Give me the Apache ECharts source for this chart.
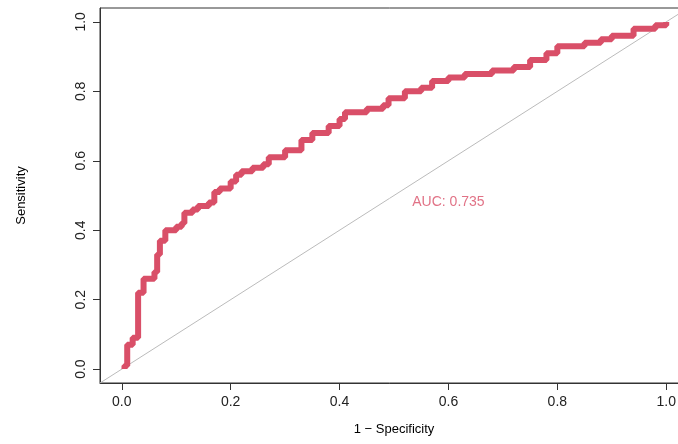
<!DOCTYPE html>
<html>
<head>
<meta charset="utf-8">
<script src="https://cdn.jsdelivr.net/npm/echarts@6/dist/echarts.min.js"></script>
<style>html,body{margin:0;padding:0;background:#fff}#chart{width:678px;height:444px}</style>
</head>
<body>
<div id="chart"></div>
<script>
var ticks = [0, 0.2, 0.4, 0.6, 0.8, 1.0];
var fpr = [0.005,0.005,0.01,0.01,0.02,0.03,0.03,0.04,0.04,0.06,0.065,0.07,0.08,0.1,0.11,0.115,0.13,0.14,0.16,0.17,0.18,0.2,0.21,0.22,0.24,0.26,0.27,0.3,0.33,0.35,0.38,0.4,0.41,0.45,0.48,0.49,0.52,0.55,0.57,0.6,0.63,0.68,0.72,0.75,0.78,0.8,0.85,0.88,0.9,0.94,0.98,1.0];
var tpr = [0.0,0.01,0.02,0.07,0.09,0.10,0.22,0.25,0.26,0.28,0.33,0.37,0.40,0.41,0.42,0.45,0.46,0.47,0.48,0.51,0.52,0.54,0.56,0.57,0.58,0.59,0.61,0.63,0.66,0.68,0.70,0.72,0.74,0.75,0.76,0.78,0.80,0.81,0.83,0.84,0.85,0.86,0.87,0.89,0.91,0.93,0.94,0.95,0.96,0.98,0.99,1.0];
var aucLabel = "AUC: 0.735";

var curve = fpr.map(function (x, i) { return [x, tpr[i]]; });
var font = "Liberation Sans, Arial, sans-serif";

var myChart = echarts.init(document.getElementById("chart"));
function axis(name, gap, rotate) {
  return {
    type: 'value', min: -0.04, max: 1.04,
    name: name, nameLocation: 'middle', nameGap: gap,
    nameTextStyle: { fontFamily: font, fontSize: 13, color: '#000' },
    axisLine: { show: true, onZero: false, lineStyle: { color: '#333', width: 1 } },
    axisTick: { show: true, length: 7, customValues: ticks, lineStyle: { color: '#333' } },
    axisLabel: { customValues: ticks, rotate: rotate, margin: 12, fontFamily: font, fontSize: 14, color: '#222',
      formatter: function (v) { return v.toFixed(1); } },
    splitLine: { show: false }
  };
}
var option = {
  animation: false,
  grid: { left: 100, top: 8, right: -10, bottom: 61, show: true, borderColor: '#333', borderWidth: 1, containLabel: false, outerBoundsMode: 'none' },
  xAxis: axis('1 − Specificity', 40, 0),
  yAxis: axis('Sensitivity', 72, 90),
  series: [
    { type: 'line', data: [[-0.04, -0.04], [1.04, 1.04]], symbol: 'none', silent: true,
      lineStyle: { color: '#bbb', width: 1 } },
    { type: 'line', data: curve, symbol: 'none', step: 'end',
      lineStyle: { color: '#D94F68', width: 6 } },
    { type: 'scatter', data: [[0.6, 0.48]], symbolSize: 0,
      label: { show: true, formatter: aucLabel, position: 'inside', fontFamily: font, fontSize: 14, color: '#D94F68' } }
  ]
};
myChart.setOption(option, true);
</script>
</body>
</html>
